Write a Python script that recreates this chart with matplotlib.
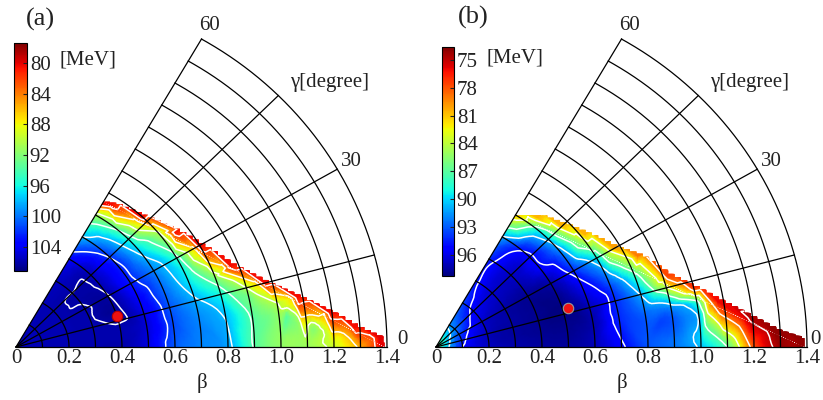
import numpy as np
import matplotlib
matplotlib.use('Agg')
import matplotlib.pyplot as plt
import matplotlib.tri as mtri
from matplotlib.path import Path
from matplotlib.patches import PathPatch
from matplotlib.colors import Normalize
from matplotlib.cm import ScalarMappable

plt.rcParams['font.family'] = ['Liberation Serif', 'DejaVu Serif']

nan = np.nan
# ---------------- data ----------------
BETA = [0.0, 0.1, 0.2, 0.3, 0.4, 0.5, 0.6, 0.7, 0.8, 0.9, 1.0, 1.1, 1.2, 1.3, 1.4]
GAMMA = [0, 10, 20, 30, 40, 50, 60]

# panel (a) energies [MeV], rows = gamma, columns = beta (nan = outside region)
E_A = [
    [105.5, 105.7, 105.8, 105.9, 105.9, 104.5, 100.8, 99.5, 98.6, 93.8, 91.5, 91.2, 89.3, 85.5, nan],
    [105.5, 105.7, 105.8, 105.9, 105.8, 104.8, 101.2, 99.3, 97.5, 93.0, 90.0, nan, nan, nan, nan],
    [105.5, 105.7, 105.8, 105.9, 106.4, 104.0, 100.5, 97.0, 92.0, nan, nan, nan, nan, nan, nan],
    [105.5, 105.7, 105.8, 105.9, 106.1, 102.8, 99.5, 95.0, nan, nan, nan, nan, nan, nan, nan],
    [105.5, 105.7, 105.8, 106.1, 105.6, 102.5, 97.0, 90.5, nan, nan, nan, nan, nan, nan, nan],
    [105.5, 105.7, 105.8, 105.8, 105.3, 101.0, 94.0, nan, nan, nan, nan, nan, nan, nan, nan],
    [105.5, 105.6, 105.6, 105.3, 103.5, 98.0, 91.0, nan, nan, nan, nan, nan, nan, nan, nan],
]
# panel (b)
E_B = [
    [86.5, 95.0, 96.8, 97.3, 97.6, 97.6, 97.0, 95.3, 93.2, 92.3, 90.6, 87.0, 78.0, 74.2, nan],
    [86.5, 94.5, 97.0, 97.6, 97.9, 98.0, 97.3, 94.3, 92.6, 91.8, 88.5, nan, nan, nan, nan],
    [86.5, 94.0, 96.8, 97.5, 97.9, 98.1, 96.3, 93.5, 88.5, nan, nan, nan, nan, nan, nan],
    [86.5, 93.5, 96.5, 97.4, 97.8, 97.3, 94.2, 89.5, nan, nan, nan, nan, nan, nan, nan],
    [86.5, 92.5, 95.8, 96.8, 97.0, 95.3, 91.8, nan, nan, nan, nan, nan, nan, nan, nan],
    [86.5, 92.0, 95.0, 96.2, 96.3, 94.8, 89.0, nan, nan, nan, nan, nan, nan, nan, nan],
    [86.5, 91.5, 93.5, 94.6, 94.3, 91.2, nan, nan, nan, nan, nan, nan, nan, nan, nan],
]

# outer edge of the computed region (gamma [deg], beta) and the energies there
EDGE_A_GAMMA = [0, 1.5, 3.5, 6.4, 10.4, 15.1, 21.5, 29.5, 37, 47, 57, 60]
EDGE_A_BETA = [1.39, 1.382, 1.289, 1.204, 1.09, 0.98, 0.88, 0.81, 0.762, 0.707, 0.675, 0.66]
EDGE_A_E = [80.0, 80.0, 80.5, 80.5, 80.5, 80.5, 80.5, 80.5, 80.5, 80.5, 80.5, 80.5]
RIM_A_E = [82.0, 82.5, 84.0, 86.0, 87.0, 87.0, 87.0, 87.0, 87.0, 87.0, 87.0, 87.0]

EDGE_B_GAMMA = [0, 1.5, 3.0, 5.6, 9.8, 13.3, 17.8, 25.2, 29.9, 38.2, 45.4, 53, 58.6, 60]
EDGE_B_BETA = [1.39, 1.38, 1.289, 1.202, 1.086, 1.012, 0.927, 0.851, 0.788, 0.725, 0.684, 0.650, 0.608, 0.60]
EDGE_B_E = [74.0, 74.0, 74.0, 74.5, 76.0, 77.0, 77.5, 79.0, 80.0, 80.5, 80.5, 80.5, 81.5, 82.0]
RIM_B_E = [74.5, 74.5, 74.8, 76.0, 79.0, 80.5, 81.5, 83.0, 83.5, 84.0, 84.5, 84.5, 84.5, 84.5]

CB_A_RANGE = (77.4, 107.1)
CB_A_TICKS = [80, 84, 88, 92, 96, 100, 104]
CB_B_RANGE = (73.6, 98.3)
CB_B_TICKS = [75, 78, 81, 84, 87, 90, 93, 96]
LEVELS_A = [82, 86, 90, 94, 98, 102, 106]
LEVELS_B = [75, 79, 83, 87, 91, 95]

MIN_A = (0.40, 18.0)  # (beta, gamma)
MIN_B = (0.52, 17.0)

BETA_TICKS = [0, 0.2, 0.4, 0.6, 0.8, 1.0, 1.2, 1.4]
BETA_TICK_LABELS = ['0', '0.2', '0.4', '0.6', '0.8', '1.0', '1.2', '1.4']
GRID_BETA = [0.1, 0.2, 0.3, 0.4, 0.5, 0.6, 0.7, 0.8, 0.9, 1.0, 1.1, 1.2, 1.3, 1.4]
GRID_GAMMA = [0, 15, 30, 45, 60]
GAMMA_LABELS = [0, 30, 60]
PANEL_LABELS = ['(a)', '(b)']

# ---------------- figure ----------------
W, H = 823, 400
fig = plt.figure(figsize=(W / 100, H / 100), dpi=100)
cmap = plt.get_cmap('jet_r')
TXT = '#222222'
RIM = 0.035      # depth of the rim nodes inside the edge
BAND = 0.012     # depth of the band that keeps the edge energy
STEP = 0.024     # size of the jagged steps of the edge


def polar_xy(b, gdeg):
    g = np.radians(gdeg)
    return b * np.cos(g), b * np.sin(g)


def build_field(E, edge_g, edge_b, edge_e, rim_e):
    E = np.asarray(E, float)
    xs, ys, zs = [0.0], [0.0], [E[0, 0]]
    for j, gdeg in enumerate(GAMMA):
        for i in range(1, len(BETA)):
            if np.isfinite(E[j, i]):
                x, y = polar_xy(BETA[i], gdeg)
                xs.append(x); ys.append(y); zs.append(E[j, i])
    for gdeg, b, ee, re in zip(edge_g, edge_b, edge_e, rim_e):
        for depth, val in ((-0.015, ee), (BAND, ee), (RIM, re)):
            x, y = polar_xy(b - depth, gdeg)
            xs.append(x); ys.append(y); zs.append(val)
    xs, ys, zs = map(np.asarray, (xs, ys, zs))
    tri = mtri.Triangulation(xs, ys)
    ex, ey = polar_xy(np.asarray(edge_b), np.asarray(edge_g))
    dom = Path([(0, 0)] + list(zip(ex * 1.02, ey * 1.02)) + [(0, 0)], closed=True)
    cx = xs[tri.triangles].mean(axis=1)
    cy = ys[tri.triangles].mean(axis=1)
    mask = ~dom.contains_points(np.column_stack([cx, cy]))
    tri.set_mask(mask)
    return tri, zs, ex, ey


def smooth_field(tri, z, edge_g, edge_b):
    """Cubic interpolation inside, linear close to the steep edge."""
    refiner = mtri.UniformTriRefiner(tri)
    tri_r, z_lin = refiner.refine_field(
        z, triinterpolator=mtri.LinearTriInterpolator(tri, z), subdiv=3)
    _, z_cub = refiner.refine_field(
        z, triinterpolator=mtri.CubicTriInterpolator(tri, z, kind='geom'), subdiv=3)
    r = np.hypot(tri_r.x, tri_r.y)
    g = np.degrees(np.arctan2(tri_r.y, tri_r.x))
    d = np.interp(g, edge_g, edge_b) - r
    w = np.clip((d - 0.07) / 0.08, 0.0, 1.0)
    return tri_r, w * z_cub + (1 - w) * z_lin


def staircase(ex, ey):
    order = np.argsort(ex)
    sx, sy = ex[order], ey[order]
    xk = np.arange(sx[0], sx[-1], STEP)
    yk = np.interp(xk, sx, sy)
    verts = []
    for k in range(len(xk)):
        xa = xk[k]
        xb = xk[k + 1] if k + 1 < len(xk) else sx[-1]
        verts.append((xa, yk[k]))
        verts.append((xb, yk[k]))
    verts.append((sx[-1], sy[-1]))
    return verts


def draw_panel(ox_px, E, edge_g, edge_b, edge_e, rim_e, rng, levels, cb_ticks,
               cb_rect, minpt, label, label_px, mev_px, dot_edge, zero_dx):
    sx, sy = 265.0, 254.0
    x0, x1, y0, y1 = -0.06, 1.5, -0.05, 1.3
    left = (ox_px + x0 * sx) / W
    bottom = (H - (347 - y0 * sy)) / H
    ax = fig.add_axes([left, bottom, (x1 - x0) * sx / W, (y1 - y0) * sy / H])
    ax.set_xlim(x0, x1)
    ax.set_ylim(y0, y1)
    ax.axis('off')

    norm = Normalize(vmin=rng[0], vmax=rng[1])
    tri, z, ex, ey = build_field(E, edge_g, edge_b, edge_e, rim_e)
    tri_r, z_r = smooth_field(tri, z, edge_g, edge_b)

    g60 = np.radians(60)
    verts = [(0, 0), (edge_b[0], 0)] + staircase(ex, ey) + \
        [(edge_b[-1] * np.cos(g60), edge_b[-1] * np.sin(g60)), (0, 0)]
    clip = PathPatch(Path(verts, closed=True), transform=ax.transData,
                     facecolor='none', edgecolor='none')
    ax.add_patch(clip)

    tp = ax.tripcolor(tri_r, z_r, shading='gouraud', cmap=cmap, norm=norm, zorder=1)
    tp.set_clip_path(clip)
    cs = ax.tricontour(tri_r, z_r, levels=levels, colors='white',
                       linewidths=1.1, zorder=2)
    cs.set_clip_path(clip)

    # polar grid
    t = np.radians(np.linspace(0, 60, 300))
    for b in GRID_BETA:
        ax.plot(b * np.cos(t), b * np.sin(t), color='black', lw=0.9, zorder=3)
    rmax = GRID_BETA[-1]
    for gdeg in GRID_GAMMA:
        x, y = polar_xy(rmax, gdeg)
        ax.plot([0, x], [0, y], color='black', lw=0.9, zorder=3)

    # minimum
    mx, my = polar_xy(minpt[0], minpt[1])
    ax.plot(mx, my, 'o', ms=7.5, mfc='#ee1111', mec=dot_edge, mew=0.8, zorder=5)

    # tick labels
    for v, s in zip(BETA_TICKS, BETA_TICK_LABELS):
        ax.text(v, -0.047, s, ha='center', va='center', fontsize=15, color=TXT)
    ax.text(0.70, -0.142, 'β', ha='center', va='center', fontsize=15, color=TXT)
    for gdeg in GAMMA_LABELS:
        x, y = polar_xy(1.46, gdeg)
        if gdeg == 0:
            x, y = x + zero_dx, 0.028
        ax.text(x, y, str(gdeg), ha='center', va='center', fontsize=15, color=TXT)
    ax.text(1.185, 1.043, 'γ[degree]', ha='center', va='center', fontsize=15,
            color=TXT)

    fig.text(label_px[0] / W, 1 - label_px[1] / H, label, ha='center',
             va='center', fontsize=19, color=TXT)
    fig.text(mev_px[0] / W, 1 - mev_px[1] / H, '[MeV]', ha='center',
             va='center', fontsize=15, color=TXT)

    # colorbar
    cl, ct, cr, cbm = cb_rect
    cax = fig.add_axes([cl / W, 1 - cbm / H, (cr - cl) / W, (cbm - ct) / H])
    sm = ScalarMappable(norm=norm, cmap=cmap)
    cb = fig.colorbar(sm, cax=cax, ticks=cb_ticks)
    cax.invert_yaxis()
    cb.outline.set_linewidth(0.8)
    cax.tick_params(labelsize=15, length=3, width=0.8, direction='in',
                    pad=2, colors=TXT)
    return ax


draw_panel(16, E_A, EDGE_A_GAMMA, EDGE_A_BETA, EDGE_A_E, RIM_A_E, CB_A_RANGE,
           LEVELS_A, CB_A_TICKS, (14, 43, 27, 271), MIN_A, PANEL_LABELS[0],
           (40, 19), (88, 60), '#bb0000', 0.0)
draw_panel(436, E_B, EDGE_B_GAMMA, EDGE_B_BETA, EDGE_B_E, RIM_B_E, CB_B_RANGE,
           LEVELS_B, CB_B_TICKS, (442, 47, 454, 276), MIN_B, PANEL_LABELS[1],
           (473, 17), (515, 58), '#999999', -0.03)

fig.savefig('out.png', dpi=100)
